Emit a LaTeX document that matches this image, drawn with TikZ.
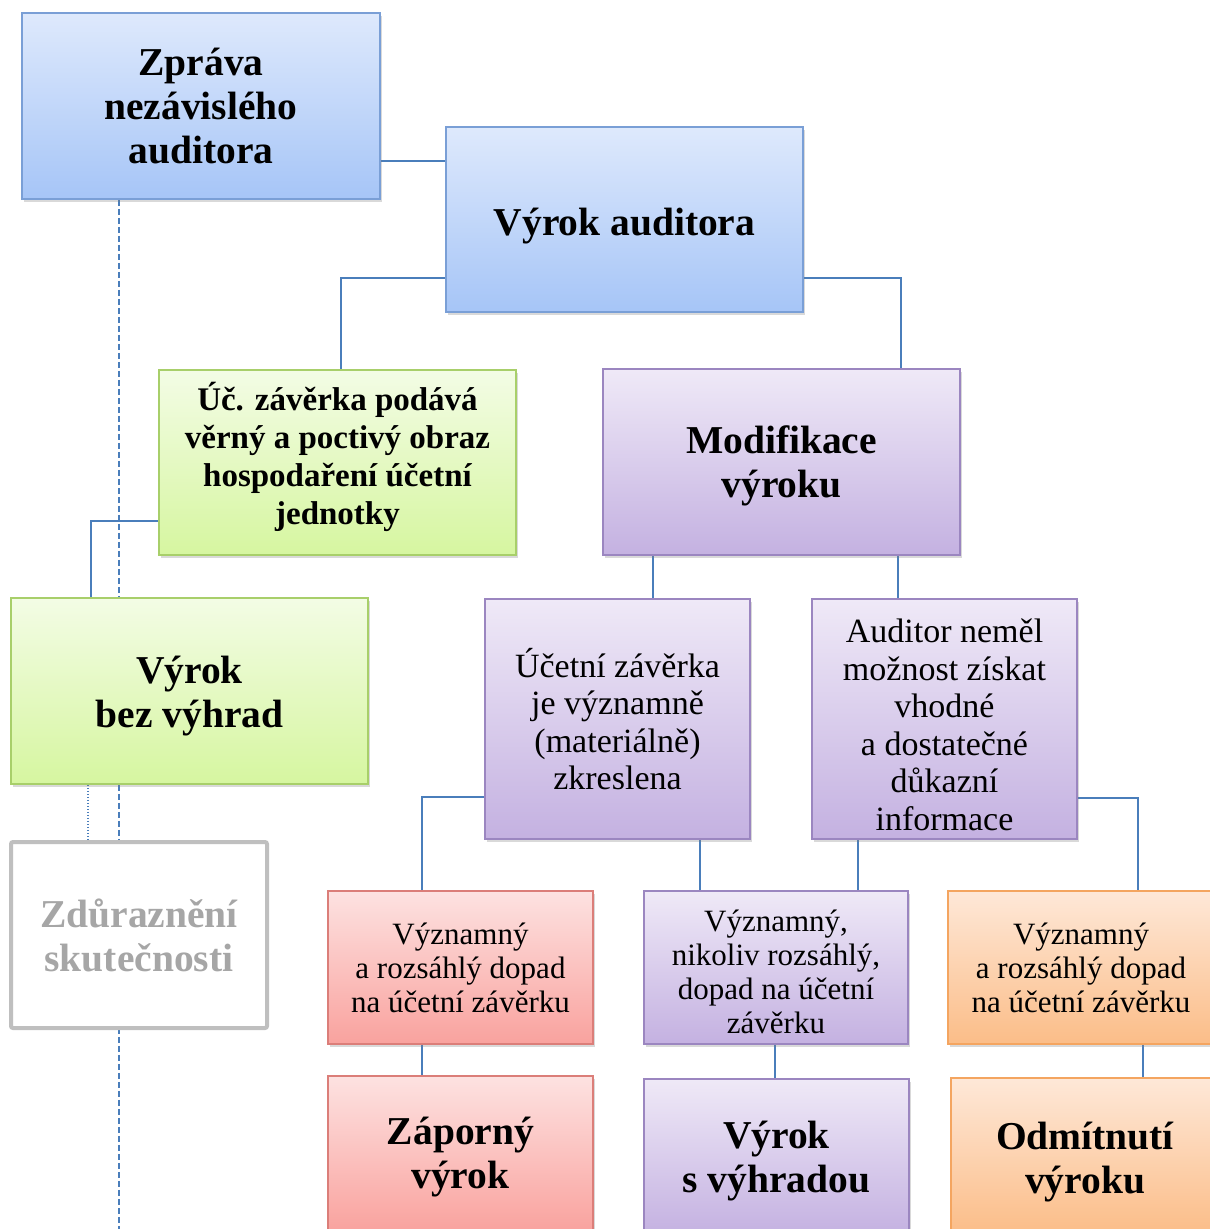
\documentclass[tikz,border=0pt]{standalone}
\usepackage{fontspec}
\setmainfont{Liberation Serif}
\usetikzlibrary{shadows,backgrounds}
\definecolor{bluetop}{HTML}{DEE9FC}
\definecolor{bluebot}{HTML}{A6C5F7}
\definecolor{bluedraw}{HTML}{7A9FD6}
\definecolor{greentop}{HTML}{F3FCE5}
\definecolor{greenbot}{HTML}{D6F6A0}
\definecolor{greendraw}{HTML}{A8CF6A}
\definecolor{purtop}{HTML}{EFE9F7}
\definecolor{purbot}{HTML}{C4B1E1}
\definecolor{purdraw}{HTML}{9B86C0}
\definecolor{redtop}{HTML}{FDE2E1}
\definecolor{redbot}{HTML}{F9A29E}
\definecolor{reddraw}{HTML}{DB7E79}
\definecolor{oratop}{HTML}{FEE8D8}
\definecolor{orabot}{HTML}{FBBD88}
\definecolor{oradraw}{HTML}{F4A560}
\definecolor{connblue}{HTML}{4A7EBB}
\definecolor{graydraw}{HTML}{BFBFBF}
\definecolor{graytext}{HTML}{A6A6A6}
\newcommand\uplift[1]{\rule{0pt}{#1}}
\newcommand\dnlift[1]{\rule[-#1]{0pt}{#1}}
\begin{document}
\begin{tikzpicture}[x=1pt,y=-1pt,
  box/.style={rectangle, inner sep=0pt, align=center, line width=1.6pt,
    drop shadow={opacity=0.3, shadow xshift=2pt, shadow yshift=-3pt}},
  bluebox/.style={box, draw=bluedraw, top color=bluetop, bottom color=bluebot},
  greenbox/.style={box, draw=greendraw, top color=greentop, bottom color=greenbot},
  purbox/.style={box, draw=purdraw, top color=purtop, bottom color=purbot},
  redbox/.style={box, draw=reddraw, top color=redtop, bottom color=redbot},
  orabox/.style={box, draw=oradraw, top color=oratop, bottom color=orabot},
  graybox/.style={rectangle, inner sep=0pt, align=center, draw=graydraw, line width=4pt,
    rounded corners=2pt, fill=white, text=graytext},
  big/.style={font=\fontsize{39.5}{44}\selectfont\bfseries},
  ucfont/.style={font=\fontsize{33}{38}\selectfont\bfseries},
  mid/.style={font=\fontsize{34}{37.5}\selectfont},
  small/.style={font=\fontsize{31}{34}\selectfont},
  conn/.style={draw=connblue, line width=2pt},
  dashline/.style={draw=connblue, line width=1.4pt, dash pattern=on 6pt off 3pt},
  dotline/.style={draw=connblue, line width=1.2pt, dash pattern=on 1.5pt off 1.5pt},
]
\useasboundingbox (0,0) rectangle (1210,1229);
\clip (0,0) rectangle (1210,1229);

\node[bluebox, big, minimum width=358pt, minimum height=186pt] (zprava) at (201,106) {Zpráva\\nezávislého\\auditora};
\node[bluebox, big, minimum width=357pt, minimum height=185pt] (vyrok) at (624.5,219.5) {\uplift{40.7pt}Výrok auditora};
\node[greenbox, ucfont, minimum width=357pt, minimum height=185pt] (uc) at (337.5,462.5) {Úč. závěrka podává\\věrný a poctivý obraz\\hospodaření účetní\\jednotky\dnlift{19pt}};
\node[purbox, big, minimum width=357pt, minimum height=186pt] (modif) at (781.5,462) {\uplift{35.7pt}Modifikace\\výroku};
\node[greenbox, big, minimum width=357pt, minimum height=186pt] (bez) at (189.5,691) {\uplift{36.7pt}Výrok\\bez výhrad};
\node[graybox, big, minimum width=256pt, minimum height=186pt] (zdur) at (139,935) {Zdůraznění\\skutečnosti};
\node[purbox, mid, minimum width=265pt, minimum height=240pt] (ucz) at (617.5,719) {Účetní závěrka\\je významně\\(materiálně)\\zkreslena};
\node[purbox, mid, minimum width=265pt, minimum height=240pt] (audit) at (944.5,719) {\uplift{35pt}Auditor neměl\\možnost získat\\vhodné\\a dostatečné\\důkazní\\informace};
\node[redbox, small, minimum width=265pt, minimum height=153pt] (red1) at (460.5,967.5) {Významný\\a rozsáhlý dopad\\na účetní závěrku};
\node[purbox, small, minimum width=264pt, minimum height=153pt] (pur1) at (776,967.5) {\uplift{30.2pt}Významný,\\nikoliv rozsáhlý,\\dopad na účetní\\závěrku};
\node[orabox, small, minimum width=266pt, minimum height=153pt] (ora1) at (1081,967.5) {Významný\\a rozsáhlý dopad\\na účetní závěrku};
\node[redbox, big, minimum width=265pt, minimum height=156pt] (red2) at (460.5,1154) {\uplift{33pt}Záporný\\výrok};
\node[purbox, big, minimum width=265pt, minimum height=156pt] (pur2) at (776.5,1157) {\uplift{34.7pt}Výrok\\s výhradou};
\node[orabox, big, minimum width=268pt, minimum height=156pt] (ora2) at (1085,1156) {\uplift{39pt}Odmítnutí\\výroku};
\coordinate (dashend) at (119,1229);

\begin{pgfonlayer}{background}
\draw[dashline] (zprava.south -| dashend) -- (dashend);
\draw[dotline] (bez.south -| 88,0) -- (zdur.north -| 88,0);
\draw[conn] (zprava.east |- 0,161) -- (vyrok.west |- 0,161);
\draw[conn] (vyrok.west |- 0,278) -| (uc.north -| 341,0);
\draw[conn] (vyrok.east |- 0,278) -| (modif.north -| 901,0);
\draw[conn] (uc.west |- 0,521) -| (bez.north -| 91,0);
\draw[conn] (modif.south -| 653,0) -- (ucz.north -| 653,0);
\draw[conn] (modif.south -| 898,0) -- (audit.north -| 898,0);
\draw[conn] (ucz.west |- 0,797) -| (red1.north -| 422,0);
\draw[conn] (ucz.south -| 700,0) -- (pur1.north -| 700,0);
\draw[conn] (audit.south -| 858,0) -- (pur1.north -| 858,0);
\draw[conn] (audit.east |- 0,798) -| (ora1.north -| 1138,0);
\draw[conn] (red1.south -| 422,0) -- (red2.north -| 422,0);
\draw[conn] (pur1.south -| 775,0) -- (pur2.north -| 775,0);
\draw[conn] (ora1.south -| 1143,0) -- (ora2.north -| 1143,0);
\end{pgfonlayer}
\end{tikzpicture}
\end{document}
